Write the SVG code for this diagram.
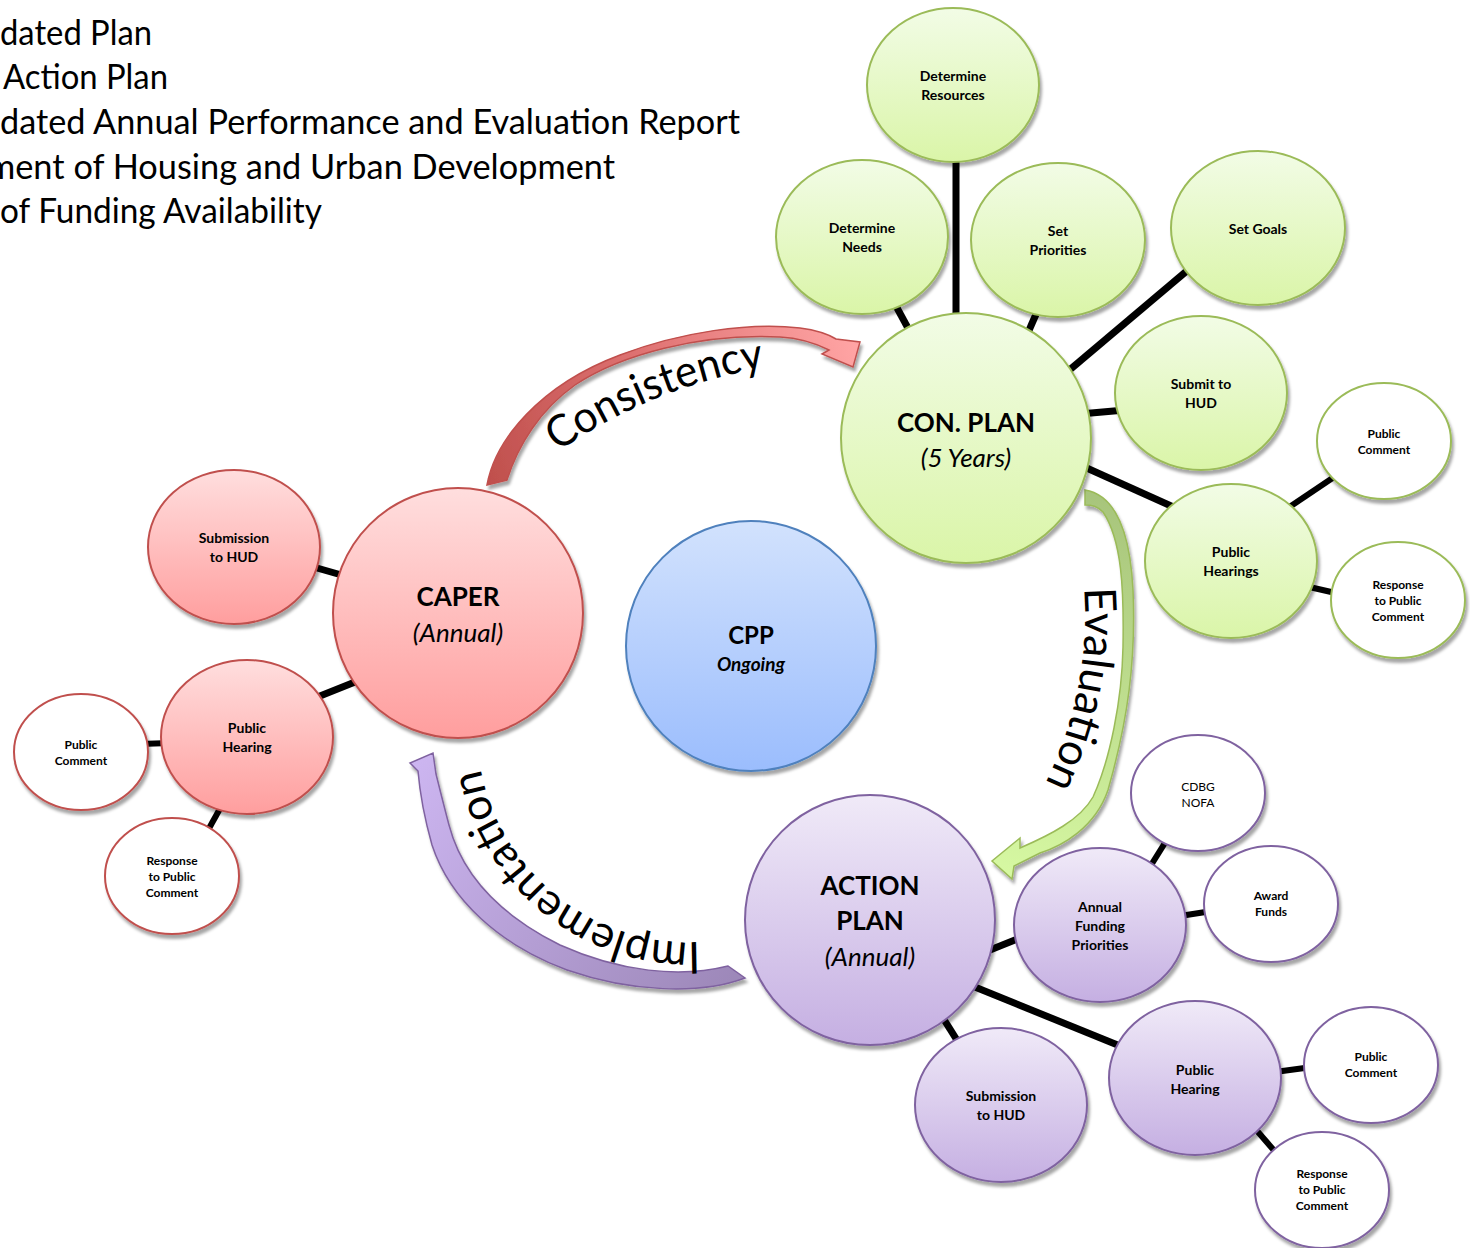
<svg xmlns="http://www.w3.org/2000/svg" width="1470" height="1248" viewBox="0 0 1470 1248">
<style>
  text { font-family: Lato, "Liberation Sans", sans-serif; fill: #000; }
  .hdr { font-size: 34px; }
  .big { font-size: 26px; font-weight: 700; text-anchor: middle; }
  .bigi { font-size: 26px; font-style: italic; text-anchor: middle; }
  .mid { font-size: 14px; font-weight: 700; text-anchor: middle; }
  .sml { font-size: 12px; font-weight: 700; text-anchor: middle; }
  .smr { font-size: 12px; font-weight: 400; text-anchor: middle; }
  .lbl { font-size: 44px; }
  .con { stroke: #000; stroke-width: 7; fill: none; }
  .con2 { stroke: #000; stroke-width: 6; fill: none; }
  .g { fill: url(#gGreen); stroke: #9bbb59; stroke-width: 2; filter: url(#sh); }
  .r { fill: url(#gRed); stroke: #c0504d; stroke-width: 2; filter: url(#sh); }
  .p { fill: url(#gPurple); stroke: #7f62a0; stroke-width: 2; filter: url(#sh); }
  .b { fill: url(#gBlue); stroke: #4f81bd; stroke-width: 2; filter: url(#sh); }
  .wg { fill: #fff; stroke: #9bbb59; stroke-width: 2; filter: url(#sh); }
  .wr { fill: #fff; stroke: #c0504d; stroke-width: 2; filter: url(#sh); }
  .wp { fill: #fff; stroke: #7f62a0; stroke-width: 2; filter: url(#sh); }
</style>
<defs>
  <filter id="sh" x="-10%" y="-10%" width="125%" height="125%">
    <feDropShadow dx="2" dy="4" stdDeviation="1.5" flood-color="#000" flood-opacity="0.35"/>
  </filter>
  <linearGradient id="gGreen" x1="0" y1="0" x2="0" y2="1">
    <stop offset="0" stop-color="#f2fce6"/>
    <stop offset="1" stop-color="#daf5a8"/>
  </linearGradient>
  <linearGradient id="gRed" x1="0" y1="0" x2="0" y2="1">
    <stop offset="0" stop-color="#ffdede"/>
    <stop offset="1" stop-color="#ff9e9e"/>
  </linearGradient>
  <linearGradient id="gPurple" x1="0" y1="0" x2="0" y2="1">
    <stop offset="0" stop-color="#f0eaf8"/>
    <stop offset="1" stop-color="#c5afe2"/>
  </linearGradient>
  <linearGradient id="gBlue" x1="0" y1="0" x2="0" y2="1">
    <stop offset="0" stop-color="#d2e2fd"/>
    <stop offset="1" stop-color="#9bbdfd"/>
  </linearGradient>
  <linearGradient id="aRed" gradientUnits="userSpaceOnUse" x1="490" y1="480" x2="855" y2="345">
    <stop offset="0" stop-color="#c0504d"/>
    <stop offset="0.5" stop-color="#e07474"/>
    <stop offset="1" stop-color="#ffa4a4"/>
  </linearGradient>
  <linearGradient id="aGreen" gradientUnits="userSpaceOnUse" x1="1100" y1="490" x2="1000" y2="870">
    <stop offset="0" stop-color="#a7c47b"/>
    <stop offset="1" stop-color="#d6f8a2"/>
  </linearGradient>
  <linearGradient id="aPurple" gradientUnits="userSpaceOnUse" x1="420" y1="760" x2="740" y2="985">
    <stop offset="0" stop-color="#ccb5f0"/>
    <stop offset="1" stop-color="#9c87b8"/>
  </linearGradient>
  <path id="tpCons" d="M558,452 A500,500 0 0 1 778,366"/>
  <path id="tpEval" d="M1084,588 Q1092,690 1042,790"/>
  <path id="tpImpl" d="M700,942 A213,213 0 0 1 480,765"/>
</defs>

<g id="legend">
  <text class="hdr" x="0" y="45" textLength="152" lengthAdjust="spacingAndGlyphs">dated Plan</text>
  <text class="hdr" x="3" y="89" textLength="165" lengthAdjust="spacingAndGlyphs">Action Plan</text>
  <text class="hdr" x="0" y="134" textLength="740" lengthAdjust="spacingAndGlyphs">dated Annual Performance and Evaluation Report</text>
  <text class="hdr" x="-13" y="179" textLength="628" lengthAdjust="spacingAndGlyphs">ment of Housing and Urban Development</text>
  <text class="hdr" x="0" y="223" textLength="322" lengthAdjust="spacingAndGlyphs">of Funding Availability</text>
</g>

<g id="connectors">
  <line class="con" x1="956" y1="150" x2="956" y2="330"/>
  <line class="con" x1="890" y1="295" x2="915" y2="341"/>
  <line class="con" x1="1040" y1="305" x2="1027" y2="335"/>
  <line class="con" x1="1195" y1="264" x2="1060" y2="378"/>
  <line class="con" x1="1080" y1="414" x2="1125" y2="410"/>
  <line class="con" x1="1080" y1="465" x2="1180" y2="510"/>
  <line class="con2" x1="1285" y1="510" x2="1340" y2="473"/>
  <line class="con2" x1="1305" y1="586" x2="1340" y2="594"/>
  <line class="con" x1="310" y1="566" x2="345" y2="576"/>
  <line class="con" x1="315" y1="698" x2="360" y2="680"/>
  <line class="con2" x1="140" y1="744" x2="170" y2="743"/>
  <line class="con2" x1="207" y1="832" x2="222" y2="805"/>
  <line class="con" x1="985" y1="952" x2="1025" y2="936"/>
  <line class="con2" x1="1168" y1="838" x2="1148" y2="870"/>
  <line class="con2" x1="1180" y1="916" x2="1212" y2="911"/>
  <line class="con" x1="965" y1="983" x2="1125" y2="1048"/>
  <line class="con" x1="938" y1="1010" x2="960" y2="1045"/>
  <line class="con2" x1="1275" y1="1072" x2="1312" y2="1067"/>
  <line class="con2" x1="1252" y1="1125" x2="1278" y2="1155"/>
</g>

<g id="arrow-consistency">
  <path d="M487,485 C495,440 540,385 620,355 C680,332 750,322 800,328 C815,330 828,334 836,339 L860,342 L853,367 L822,354 L829,350 C815,343 798,338 780,337 C700,333 620,355 575,385 C540,410 518,445 507,480 Z" fill="url(#aRed)" stroke="#c0504d" stroke-width="1.5" filter="url(#sh)"/>
  <text class="lbl"><textPath href="#tpCons" textLength="225" lengthAdjust="spacingAndGlyphs">Consistency</textPath></text>
</g>
<g id="arrow-evaluation">
  <path d="M1085,490 C1115,495 1130,530 1133,590 C1136,660 1128,720 1108,790 C1095,828 1062,846 1040,853 L1014,866 L1012,879 L992,861 L1020,838 L1020,848 C1050,835 1080,820 1093,797 C1110,760 1122,700 1123,647 C1124,590 1122,540 1103,512 C1097,506 1092,505 1085,505 Z" fill="url(#aGreen)" stroke="#9bbb59" stroke-width="1.5" filter="url(#sh)"/>
  <text class="lbl"><textPath href="#tpEval">Evaluation</textPath></text>
</g>
<g id="arrow-implementation">
  <path d="M745,978 C700,995 630,992 567,970 C500,945 450,900 432,845 C425,820 420,795 418,771 L410,763 L433,753 L436,774 C440,790 445,810 449,825 C462,875 500,915 560,945 C620,972 680,978 728,966 Z" fill="url(#aPurple)" stroke="#7f62a0" stroke-width="1.5" filter="url(#sh)"/>
  <text class="lbl"><textPath href="#tpImpl" textLength="305" lengthAdjust="spacingAndGlyphs">Implementation</textPath></text>
</g>

<!-- Con Plan group -->
<g id="determine-resources"><ellipse class="g" cx="953" cy="85" rx="86" ry="77"/><text class="mid" x="953" y="81">Determine</text><text class="mid" x="953" y="100">Resources</text></g>
<g id="determine-needs"><ellipse class="g" cx="862" cy="237" rx="86" ry="77"/><text class="mid" x="862" y="233">Determine</text><text class="mid" x="862" y="252">Needs</text></g>
<g id="set-priorities"><ellipse class="g" cx="1058" cy="240" rx="87" ry="77"/><text class="mid" x="1058" y="236">Set</text><text class="mid" x="1058" y="255">Priorities</text></g>
<g id="set-goals"><ellipse class="g" cx="1258" cy="228" rx="87" ry="77"/><text class="mid" x="1258" y="234">Set Goals</text></g>
<g id="con-plan"><ellipse class="g" cx="966" cy="438" rx="125" ry="125"/><text class="big" x="966" y="432">CON. PLAN</text><text class="bigi" x="966" y="467">(5 Years)</text></g>
<g id="submit-to-hud"><ellipse class="g" cx="1201" cy="393" rx="86" ry="77"/><text class="mid" x="1201" y="389">Submit to</text><text class="mid" x="1201" y="408">HUD</text></g>
<g id="public-hearings"><ellipse class="g" cx="1231" cy="561" rx="86" ry="77"/><text class="mid" x="1231" y="557">Public</text><text class="mid" x="1231" y="576">Hearings</text></g>
<g id="cp-public-comment"><ellipse class="wg" cx="1384" cy="441" rx="67" ry="58"/><text class="sml" x="1384" y="438">Public</text><text class="sml" x="1384" y="454">Comment</text></g>
<g id="cp-response"><ellipse class="wg" cx="1398" cy="600" rx="67" ry="58"/><text class="sml" x="1398" y="589">Response</text><text class="sml" x="1398" y="605">to Public</text><text class="sml" x="1398" y="621">Comment</text></g>

<!-- CAPER group -->
<g id="caper"><ellipse class="r" cx="458" cy="613" rx="125" ry="125"/><text class="big" x="458" y="606">CAPER</text><text class="bigi" x="458" y="642">(Annual)</text></g>
<g id="caper-submission"><ellipse class="r" cx="234" cy="547" rx="86" ry="77"/><text class="mid" x="234" y="543">Submission</text><text class="mid" x="234" y="562">to HUD</text></g>
<g id="caper-hearing"><ellipse class="r" cx="247" cy="737" rx="86" ry="77"/><text class="mid" x="247" y="733">Public</text><text class="mid" x="247" y="752">Hearing</text></g>
<g id="caper-public-comment"><ellipse class="wr" cx="81" cy="752" rx="67" ry="58"/><text class="sml" x="81" y="749">Public</text><text class="sml" x="81" y="765">Comment</text></g>
<g id="caper-response"><ellipse class="wr" cx="172" cy="876" rx="67" ry="58"/><text class="sml" x="172" y="865">Response</text><text class="sml" x="172" y="881">to Public</text><text class="sml" x="172" y="897">Comment</text></g>

<!-- CPP -->
<g id="cpp"><ellipse class="b" cx="751" cy="646" rx="125" ry="125"/><text x="751" y="644" style="font-size:24px;font-weight:700;text-anchor:middle">CPP</text><text x="751" y="671" style="font-size:19px;font-weight:700;font-style:italic;text-anchor:middle">Ongoing</text></g>

<!-- Action Plan group -->
<g id="action-plan"><ellipse class="p" cx="870" cy="920" rx="125" ry="125"/><text class="big" x="870" y="895">ACTION</text><text class="big" x="870" y="930">PLAN</text><text class="bigi" x="870" y="966">(Annual)</text></g>
<g id="annual-funding"><ellipse class="p" cx="1100" cy="925" rx="86" ry="77"/><text class="mid" x="1100" y="912">Annual</text><text class="mid" x="1100" y="931">Funding</text><text class="mid" x="1100" y="950">Priorities</text></g>
<g id="cdbg-nofa"><ellipse class="wp" cx="1198" cy="793" rx="67" ry="58"/><text class="smr" x="1198" y="791">CDBG</text><text class="smr" x="1198" y="807">NOFA</text></g>
<g id="award-funds"><ellipse class="wp" cx="1271" cy="904" rx="67" ry="58"/><text class="sml" x="1271" y="900">Award</text><text class="sml" x="1271" y="916">Funds</text></g>
<g id="ap-hearing"><ellipse class="p" cx="1195" cy="1078" rx="86" ry="77"/><text class="mid" x="1195" y="1075">Public</text><text class="mid" x="1195" y="1094">Hearing</text></g>
<g id="ap-submission"><ellipse class="p" cx="1001" cy="1105" rx="86" ry="77"/><text class="mid" x="1001" y="1101">Submission</text><text class="mid" x="1001" y="1120">to HUD</text></g>
<g id="ap-public-comment"><ellipse class="wp" cx="1371" cy="1065" rx="67" ry="58"/><text class="sml" x="1371" y="1061">Public</text><text class="sml" x="1371" y="1077">Comment</text></g>
<g id="ap-response"><ellipse class="wp" cx="1322" cy="1190" rx="67" ry="58"/><text class="sml" x="1322" y="1178">Response</text><text class="sml" x="1322" y="1194">to Public</text><text class="sml" x="1322" y="1210">Comment</text></g>
</svg>
